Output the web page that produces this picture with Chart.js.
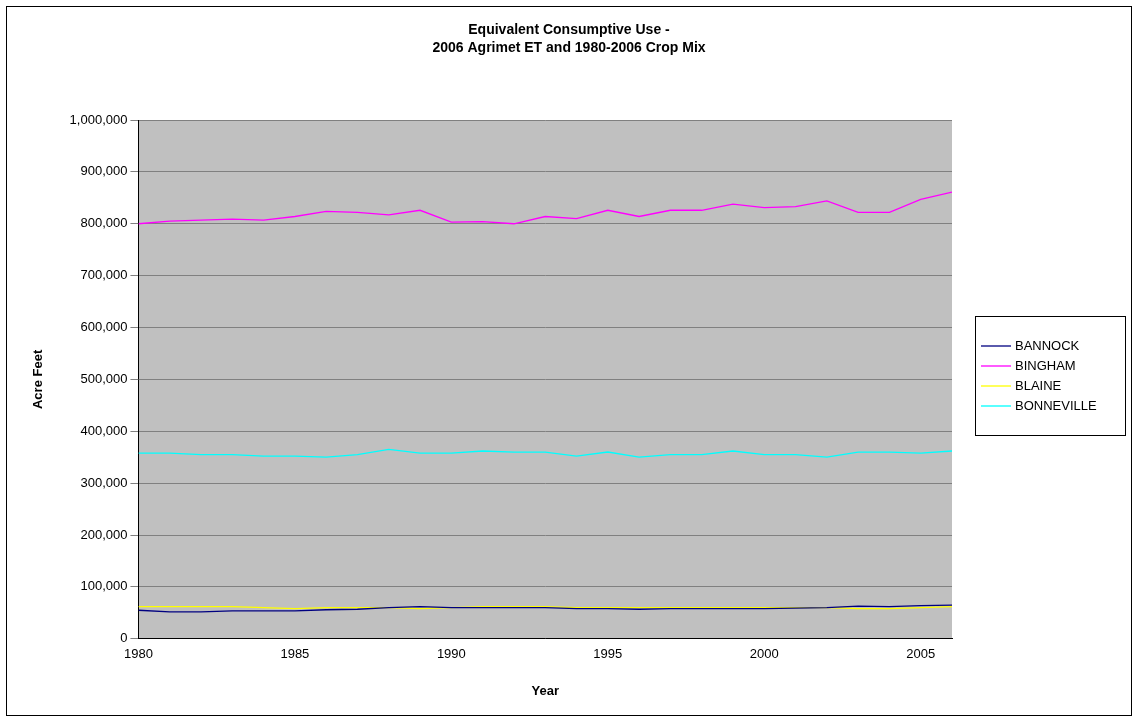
<!DOCTYPE html>
<html>
<head>
<script src="https://cdn.jsdelivr.net/npm/chart.js@4"></script>
<style>
body{margin:0;background:#fff;}
#wrap{position:absolute;left:6px;top:6px;width:1124px;height:708px;border:1px solid #000;}
</style>
</head>
<body>
<div id="wrap"><canvas id="c" width="1124" height="708"></canvas></div>
<script>
'use strict';
var years=[];
for(var y=1980;y<=2006;y++){years.push(y);}
var xTicks=[1980,1985,1990,1995,2000,2005];
var titleLines=['Equivalent Consumptive Use -','2006 Agrimet ET and 1980-2006 Crop Mix'];
var bannock=[55000,52000,52000,54000,54000,54000,56000,57000,60000,62000,60000,60000,60000,60000,58000,58000,57000,58000,58000,58000,58000,59000,60000,63000,62000,64000,65000];
var bingham=[800000,805000,807000,809000,807000,814000,824000,822000,817000,826000,803000,804000,800000,814000,810000,826000,814000,826000,826000,838000,831000,833000,844000,822000,822000,847000,861000];
var blaine=[62000,62000,62000,62000,60000,58000,60000,60000,60000,58000,60000,62000,62000,62000,60000,60000,60000,60000,60000,60000,60000,60000,60000,58000,58000,60000,62000];
var bonneville=[358000,358000,355000,355000,352000,352000,350000,355000,365000,358000,358000,362000,360000,360000,352000,360000,350000,355000,355000,362000,355000,355000,350000,360000,360000,358000,362000];

var plotBg={id:'plotBg',
  beforeDraw:function(ch){var a=ch.chartArea,c=ch.ctx;c.save();c.fillStyle='#c0c0c0';c.fillRect(a.left,a.top,a.right-a.left,a.bottom-a.top);c.restore();},
  afterDraw:function(ch){
    var c=ch.ctx,x=968,y=309,w=150,h=119;
    c.save();
    c.font='bold 14px "Liberation Sans"';c.textAlign='center';c.textBaseline='middle';c.fillStyle='#000';
    c.fillText(titleLines[0],ch.width/2,23);c.fillText(titleLines[1],ch.width/2,41);
    c.textAlign='left';
    c.strokeStyle='#000';c.lineWidth=1;c.strokeRect(x+0.5,y+0.5,w,h);
    c.font='13px "Liberation Sans"';
    ch.data.datasets.forEach(function(d,i){
      var yy=y+30+i*20;
      c.strokeStyle=d.borderColor;c.lineWidth=1.3;c.beginPath();c.moveTo(x+6,yy);c.lineTo(x+36,yy);c.stroke();
      c.fillText(d.label,x+40,yy);
    });
    c.restore();
  }};
function ds(label,data,color){return {label:label,data:data,borderColor:color,backgroundColor:color,borderWidth:1.3,pointRadius:0,tension:0};}
new Chart(document.getElementById('c').getContext('2d'),{
  type:'line',
  data:{labels:years,datasets:[ds('BANNOCK',bannock,'#000080'),ds('BINGHAM',bingham,'#ff00ff'),ds('BLAINE',blaine,'#ffff00'),ds('BONNEVILLE',bonneville,'#00ffff')]},
  plugins:[plotBg],
  options:{
    responsive:false,animation:false,
    layout:{padding:{left:24,right:179,top:113,bottom:16}},
    plugins:{title:{display:false},legend:{display:false}},
    scales:{
      x:{type:'linear',min:1980,max:2006,grid:{display:false},border:{color:'#000'},
        afterBuildTicks:function(ax){ax.ticks=xTicks.map(function(v){return {value:v};});},
        ticks:{color:'#000',padding:0,font:{family:'Liberation Sans',size:13},callback:function(v){return String(v);}},
        title:{display:true,text:'Year',padding:{top:21,bottom:0},color:'#000',font:{family:'Liberation Sans',size:13,weight:'bold'}}},
      y:{min:0,max:1000000,grid:{color:'#808080'},border:{color:'#000'},
        ticks:{stepSize:100000,color:'#000',font:{family:'Liberation Sans',size:13},callback:function(v){return v.toLocaleString('en-US');}},
        title:{display:true,text:'Acre Feet',padding:{top:0,bottom:20},color:'#000',font:{family:'Liberation Sans',size:13,weight:'bold'}}}
    }
  }
});
</script>
</body>
</html>
